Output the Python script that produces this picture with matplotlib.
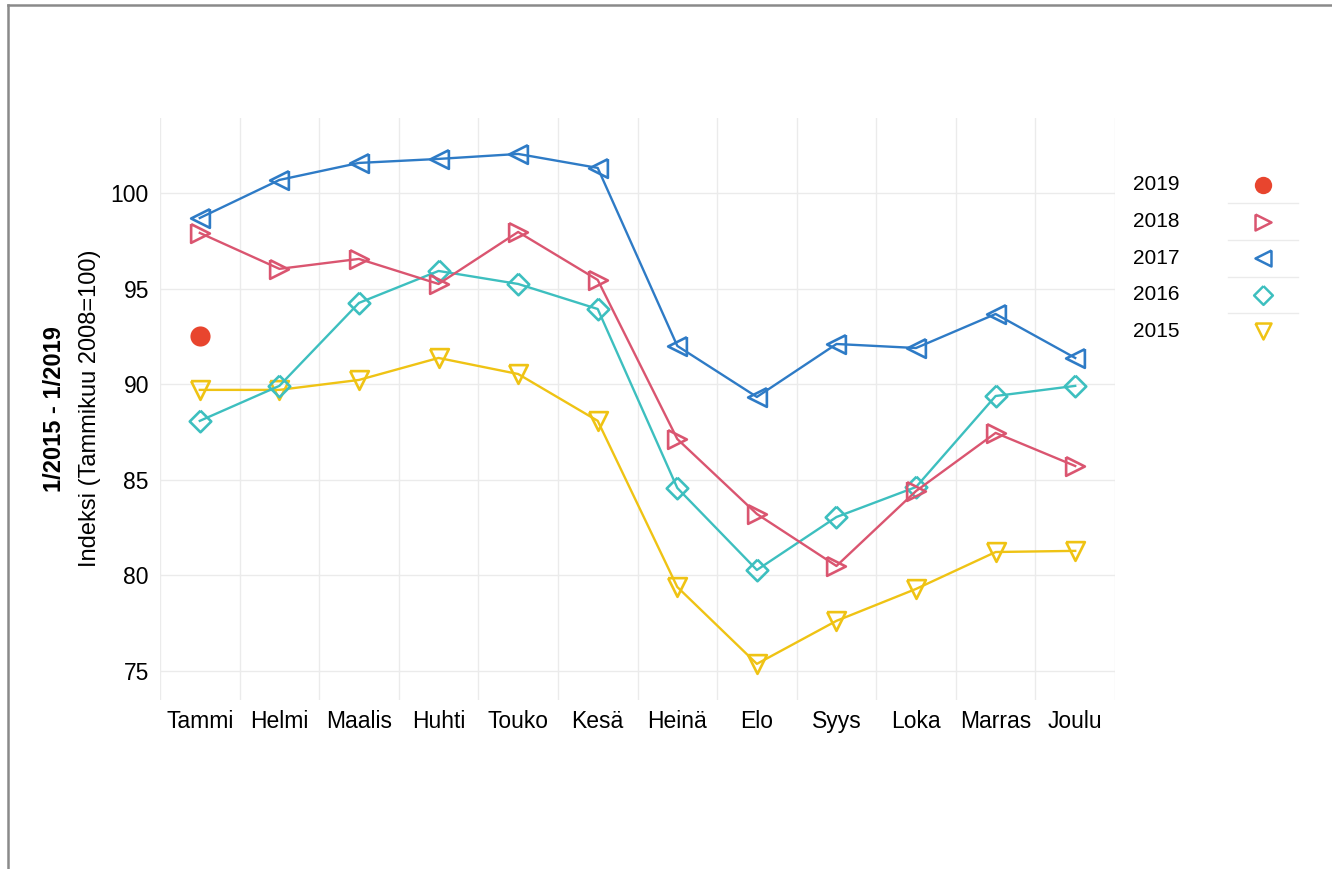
import matplotlib
matplotlib.use("Agg")
import matplotlib.pyplot as plt
import numpy as np

plt.rcParams["font.family"] = ["Liberation Sans", "DejaVu Sans"]

# Kuukaudet
months = ["Tammi", "Helmi", "Maalis", "Huhti", "Touko", "Kesä",
          "Heinä", "Elo", "Syys", "Loka", "Marras", "Joulu"]

# Indeksit vuosittain (Tammikuu 2008 = 100)
idx_2015 = [89.7, 89.7, 90.22, 91.37, 90.53, 88.08, 79.39, 75.37, 77.62, 79.29, 81.22, 81.28]
idx_2016 = [88.08, 89.91, 94.25, 95.92, 95.24, 93.93, 84.57, 80.28, 83.05, 84.62, 89.38, 89.91]
idx_2017 = [98.69, 100.68, 101.57, 101.78, 102.04, 101.31, 92.0, 89.33, 92.1, 91.89, 93.67, 91.37]
idx_2018 = [97.91, 96.03, 96.55, 95.24, 97.96, 95.45, 87.13, 83.21, 80.49, 84.41, 87.45, 85.72]
idx_2019 = [92.52]

years = ["2019", "2018", "2017", "2016", "2015"]
y_ticks = [75, 80, 85, 90, 95, 100]

# Omat merkit (tasasivuisen sijaan neliöön mahtuvat)
tri_down = [(-1, 1), (1, 1), (0, -1), (-1, 1)]
tri_right = [(-1, 1), (1, 0), (-1, -1), (-1, 1)]
tri_left = [(1, 1), (-1, 0), (1, -1), (1, 1)]
diamond = [(0, 1), (1, 0), (0, -1), (-1, 0), (0, 1)]

styles = {
    "2019": dict(color="#E8452E", marker="o", ms=14.5, filled=True),
    "2018": dict(color="#DA5570", marker=tri_right, ms=13.5, filled=False),
    "2017": dict(color="#2E7BC6", marker=tri_left, ms=13.5, filled=False),
    "2016": dict(color="#3DBFBF", marker=diamond, ms=15.5, filled=False),
    "2015": dict(color="#EFC314", marker=tri_down, ms=13.5, filled=False),
}
series = {"2015": idx_2015, "2016": idx_2016, "2017": idx_2017,
          "2018": idx_2018, "2019": idx_2019}

fig = plt.figure(figsize=(13.32, 8.69), dpi=100)
ax = fig.add_axes([160 / 1332, 1 - 700 / 869, 955 / 1332, 582 / 869])

x = np.arange(1, 13)
for yr in ["2015", "2016", "2017", "2018", "2019"]:
    st = styles[yr]
    vals = series[yr]
    xs = x[:len(vals)]
    if st["filled"]:
        ax.plot(xs, vals, linestyle="none", marker=st["marker"], ms=st["ms"],
                color=st["color"], markeredgewidth=0, zorder=3)
    else:
        ax.plot(xs, vals, color=st["color"], lw=1.7, marker=st["marker"],
                ms=st["ms"], markerfacecolor="none", markeredgecolor=st["color"],
                markeredgewidth=1.9, zorder=3)

ax.set_xlim(0.5, 12.5)
ax.set_ylim(73.48, 103.92)
ax.set_xticks(x)
ax.set_xticklabels(months, fontsize=16.5)
ax.set_yticks(y_ticks)
ax.set_yticklabels([str(v) for v in y_ticks], fontsize=16.5)
ax.tick_params(which="both", length=0)
ax.tick_params(axis="x", pad=7)
ax.tick_params(axis="y", pad=8)
ax.grid(False)
for v in y_ticks:
    ax.axhline(v, color="#EBEBEB", lw=1.0, zorder=0)
for v in np.arange(0.5, 13.0, 1.0):
    ax.axvline(v, color="#EBEBEB", lw=1.0, zorder=0)
for s in ax.spines.values():
    s.set_visible(False)

# Y-akselin otsikko kahdella rivillä
fig.text(55 / 1332, 1 - 409 / 869, "1/2015 - 1/2019", rotation=90,
         ha="center", va="center", fontsize=17, fontweight="bold")
fig.text(90 / 1332, 1 - 408 / 869, "Indeksi (Tammikuu 2008=100)", rotation=90,
         ha="center", va="center", fontsize=17)

# Selite ja kehys pikselikoordinaateissa
lax = fig.add_axes([0, 0, 1, 1])
lax.set_xlim(0, 1332)
lax.set_ylim(869, 0)
lax.axis("off")
lax.patch.set_alpha(0)

leg_y0, leg_dy = 185, 36.6
for i, yr in enumerate(years):
    st = styles[yr]
    yy = leg_y0 + i * leg_dy
    lax.text(1133, yy, yr, ha="left", va="center", fontsize=15)
    if st["filled"]:
        lax.plot([1263], [yy], linestyle="none", marker=st["marker"], ms=12.5,
                 color=st["color"], markeredgewidth=0)
    else:
        lax.plot([1263], [yy], linestyle="none", marker=st["marker"],
                 ms=st["ms"] - 2, markerfacecolor="none",
                 markeredgecolor=st["color"], markeredgewidth=1.8)
    if i < len(years) - 1:
        lax.plot([1228, 1298], [yy + leg_dy / 2] * 2, color="#EBEBEB", lw=1.0)

lax.plot([8, 8], [5, 869], color="#8A8A8A", lw=1.8)
lax.plot([8, 1332], [5, 5], color="#8A8A8A", lw=1.8)

fig.savefig("out.png", dpi=100)
